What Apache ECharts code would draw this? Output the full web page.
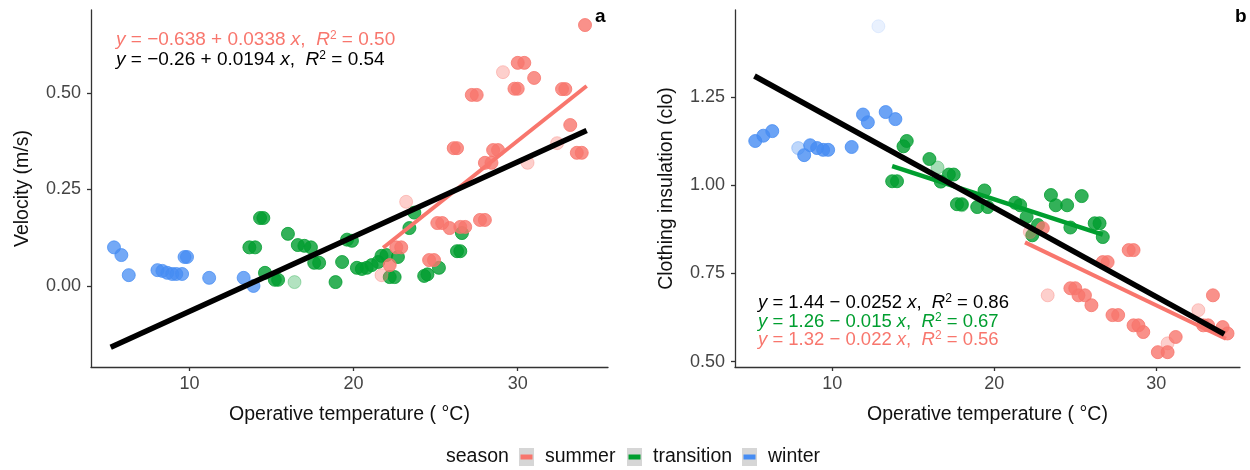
<!DOCTYPE html>
<html lang="en">
<head>
    <meta charset="utf-8" />
    <title>Velocity and clothing insulation vs operative temperature</title>
    <script type="text/javascript" src="https://cdn.jsdelivr.net/npm/echarts@6/dist/echarts.min.js"></script>
    <style type="text/css">
        html, body { margin: 0; padding: 0; background: #fff; }
    </style>
</head>
<body>

    <div id="main" style="width:1250px;height:470px;"></div>

    <script type="text/javascript">

        // colours of the seasons
        var seasons = ['summer', 'transition', 'winter'];
        var seasonColors = ['#F8766D', '#009E2F', '#468CF3'];

        // tick labels
        var xTicks = [10, 20, 30];
        var velTicks = [0, 0.25, 0.5];
        var cloTicks = [0.5, 0.75, 1.0, 1.25];

        // panel a : air velocity (m/s)
        var velWinter = [[5.4, 0.10], [5.85, 0.08], [6.3, 0.028], [8.05, 0.041], [8.35, 0.039], [8.65, 0.034], [8.95, 0.031],
            [9.2, 0.031], [9.55, 0.031], [9.7, 0.075], [9.85, 0.075], [11.2, 0.021], [13.3, 0.021], [13.9, 0.0]];
        var velTransition = [[14.3, 0.176], [14.5, 0.176], [16.0, 0.135], [13.65, 0.10], [14.0, 0.10], [16.6, 0.106], [17.0, 0.104],
            [17.4, 0.10], [17.6, 0.06], [17.9, 0.06], [14.6, 0.034], [15.2, 0.016], [15.4, 0.016], [18.9, 0.01], [19.3, 0.062],
            [19.6, 0.12], [19.9, 0.117], [20.2, 0.047], [20.5, 0.044], [20.8, 0.047], [21.1, 0.054], [21.5, 0.062], [21.7, 0.078],
            [22.0, 0.08], [22.7, 0.075], [22.2, 0.023], [22.5, 0.023], [23.4, 0.15], [23.7, 0.19], [24.3, 0.026], [24.5, 0.03],
            [25.2, 0.047], [26.3, 0.09], [26.5, 0.09], [26.6, 0.137]];
        var velSummer = [[22.6, 0.10], [22.9, 0.10], [22.2, 0.054], [25.1, 0.163], [25.4, 0.163], [25.85, 0.15], [26.5, 0.153],
            [26.8, 0.153], [27.7, 0.171], [28.0, 0.171], [24.6, 0.067], [24.9, 0.067], [34.1, 0.676], [30.0, 0.578], [30.4, 0.578],
            [31.0, 0.539], [29.8, 0.511], [30.0, 0.511], [27.2, 0.495], [27.5, 0.495], [32.7, 0.51], [32.9, 0.51], [33.2, 0.417],
            [33.6, 0.345], [33.9, 0.345], [26.1, 0.357], [26.3, 0.357], [28.5, 0.352], [28.8, 0.352], [28.0, 0.319], [28.4, 0.319]];
        var velTransitionFaint = [[16.4, 0.01]];
        var velSummerFaint = [[23.2, 0.218], [21.7, 0.028], [29.1, 0.554], [32.4, 0.37], [30.6, 0.319]];
        var velFitAll = [[5.2, -0.159], [34.2, 0.403]];
        var velFitSummer = [[21.8, 0.099], [34.2, 0.518]];

        // panel b : clothing insulation (clo)
        var cloWinter = [[5.25, 1.125], [5.75, 1.14], [6.3, 1.153], [8.27, 1.085], [8.64, 1.113], [9.07, 1.105], [9.44, 1.1],
            [9.75, 1.1], [11.2, 1.108], [11.9, 1.2], [12.2, 1.178], [13.3, 1.207], [13.9, 1.187]];
        var cloTransition = [[14.4, 1.11], [14.6, 1.125], [13.7, 1.011], [14.0, 1.011], [16.0, 1.074], [16.7, 1.01], [17.2, 1.03],
            [17.5, 1.03], [17.7, 0.946], [18.0, 0.946], [18.95, 0.938], [19.4, 0.985], [19.6, 0.938], [21.3, 0.95], [21.6, 0.943],
            [22.0, 0.91], [22.7, 0.887], [22.35, 0.858], [23.5, 0.972], [23.8, 0.943], [24.5, 0.943], [25.4, 0.969], [24.7, 0.88],
            [26.2, 0.892], [26.5, 0.892], [26.7, 0.853]];
        var cloSummer = [[23.0, 0.878], [28.3, 0.816], [28.6, 0.816], [26.7, 0.782], [27.0, 0.782], [24.7, 0.708], [25.0, 0.708],
            [25.2, 0.688], [25.6, 0.688], [26.0, 0.66], [27.3, 0.632], [27.65, 0.632], [28.6, 0.603], [28.9, 0.603], [29.2, 0.584],
            [31.2, 0.57], [30.1, 0.527], [30.7, 0.527], [33.5, 0.688], [32.9, 0.603], [33.2, 0.603], [34.1, 0.598], [34.4, 0.58]];
        var cloWinterFaint = [[7.9, 1.105]];
        var cloWinterGhost = [[12.85, 1.45]];
        var cloTransitionFaint = [[16.5, 1.05], [18.0, 0.943]];
        var cloSummerFaint = [[22.2, 0.867], [23.3, 0.688], [30.7, 0.552], [32.6, 0.646]];
        var cloFitAll = [[5.2, 1.309], [34.2, 0.578]];
        var cloFitTransition = [[13.7, 1.054], [26.7, 0.86]];
        var cloFitSummer = [[21.9, 0.838], [34.3, 0.565]];

        var FONT = '"Liberation Sans", Arial, sans-serif';
        var myChart = echarts.init(document.getElementById('main'));

        function xAxisOf(gridIndex, max) {
            return {
                gridIndex: gridIndex, type: 'value', min: 4, max: max,
                name: 'Operative temperature ( \u00B0C)', nameLocation: 'middle', nameGap: 38,
                nameTextStyle: { color: '#111', fontSize: 19.5, fontFamily: FONT },
                axisLine: { onZero: false, lineStyle: { color: '#333', width: 1.3 } },
                axisTick: { show: true, length: 4, customValues: xTicks, lineStyle: { color: '#333', width: 1.3 } },
                axisLabel: { customValues: xTicks, color: '#444', fontSize: 18, fontFamily: FONT, margin: 8 },
                splitLine: { show: false }
            };
        }

        function yAxisOf(gridIndex, min, max, ticks, name) {
            return {
                gridIndex: gridIndex, type: 'value', min: min, max: max,
                name: name, nameLocation: 'middle', nameGap: 58,
                nameTextStyle: { color: '#111', fontSize: 19.5, fontFamily: FONT },
                axisLine: { show: true, onZero: false, lineStyle: { color: '#333', width: 1.3 } },
                axisTick: { show: true, length: 4, customValues: ticks, lineStyle: { color: '#333', width: 1.3 } },
                axisLabel: {
                    customValues: ticks, color: '#444', fontSize: 18, fontFamily: FONT, margin: 10,
                    formatter: function (v) { return v.toFixed(2); }
                },
                splitLine: { show: false }
            };
        }

        function points(name, data, idx, color, opacity) {
            return {
                name: name, type: 'scatter', xAxisIndex: idx, yAxisIndex: idx,
                symbolSize: 13, data: data, z: 2, silent: true,
                itemStyle: { color: color, opacity: opacity, borderColor: color, borderWidth: 1 }
            };
        }

        function fit(name, data, idx, color, width) {
            return {
                name: name, type: 'line', xAxisIndex: idx, yAxisIndex: idx,
                data: data, showSymbol: false, z: 5, silent: true,
                lineStyle: { color: color, width: width, cap: 'butt' }
            };
        }

        // equation label with italic y, x, R and superscript 2
        function equation(text, color, left, top, size) {
            return {
                type: 'text', left: left, top: top, z: 10,
                style: {
                    text: text, fill: color, fontSize: size, fontFamily: FONT, lineHeight: 20,
                    rich: {
                        i: { fontStyle: 'italic', fill: color, fontSize: size, fontFamily: FONT, lineHeight: 20 },
                        n: { fill: color, fontSize: size, fontFamily: FONT, lineHeight: 20 },
                        s: { fill: color, fontSize: 12, fontFamily: FONT, lineHeight: 12, verticalAlign: 'top' }
                    }
                }
            };
        }

        var legendItems = [{ type: 'text', left: 446, top: 447, style: { text: 'season', fill: '#111', fontSize: 19.5, fontFamily: FONT } }];
        var legendX = [519, 627, 742];
        for (var k = 0; k < seasons.length; k++) {
            legendItems.push({ type: 'rect', shape: { x: legendX[k], y: 448, width: 15, height: 18 }, style: { fill: '#d6d6d6' } });
            legendItems.push({ type: 'rect', shape: { x: legendX[k] + 1.5, y: 454.5, width: 12, height: 5 }, style: { fill: seasonColors[k] } });
            legendItems.push({ type: 'text', left: legendX[k] + 26, top: 447, style: { text: seasons[k], fill: '#111', fontSize: 19.5, fontFamily: FONT } });
        }

        var option = {
            animation: false,
            textStyle: { fontFamily: FONT },
            grid: [
                { left: 91, top: 10, width: 517, height: 357 },
                { left: 735, top: 10, width: 505, height: 357 }
            ],
            xAxis: [xAxisOf(0, 35.5), xAxisOf(1, 35.17)],
            yAxis: [
                yAxisOf(0, -0.21, 0.715, velTicks, 'Velocity (m/s)'),
                yAxisOf(1, 0.485, 1.496, cloTicks, 'Clothing insulation (clo)')
            ],
            series: [
                points('winter', velWinter, 0, seasonColors[2], 0.75),
                points('transition', velTransition, 0, seasonColors[1], 0.8),
                points('transition', velTransitionFaint, 0, seasonColors[1], 0.3),
                points('summer', velSummer, 0, seasonColors[0], 0.8),
                points('summer', velSummerFaint, 0, seasonColors[0], 0.35),
                fit('summer', velFitSummer, 0, seasonColors[0], 4),
                fit('all', velFitAll, 0, '#000', 5.5),

                points('winter', cloWinter, 1, seasonColors[2], 0.8),
                points('winter', cloWinterFaint, 1, seasonColors[2], 0.35),
                points('winter', cloWinterGhost, 1, seasonColors[2], 0.12),
                points('transition', cloTransition, 1, seasonColors[1], 0.8),
                points('transition', cloTransitionFaint, 1, seasonColors[1], 0.35),
                points('summer', cloSummer, 1, seasonColors[0], 0.8),
                points('summer', cloSummerFaint, 1, seasonColors[0], 0.35),
                fit('summer', cloFitSummer, 1, seasonColors[0], 4),
                fit('transition', cloFitTransition, 1, seasonColors[1], 4.5),
                fit('all', cloFitAll, 1, '#000', 5.5)
            ],
            graphic: [
                equation('{i|y}{n| = \u22120.638 + 0.0338 }{i|x}{n|,  }{i|R}{s|2}{n| = 0.50}', seasonColors[0], 116, 30, 19),
                equation('{i|y}{n| = \u22120.26 + 0.0194 }{i|x}{n|,  }{i|R}{s|2}{n| = 0.54}', '#000', 116, 50, 19),
                equation('{i|y}{n| = 1.44 \u2212 0.0252 }{i|x}{n|,  }{i|R}{s|2}{n| = 0.86}', '#000', 758, 293, 18.5),
                equation('{i|y}{n| = 1.26 \u2212 0.015 }{i|x}{n|,  }{i|R}{s|2}{n| = 0.67}', seasonColors[1], 758, 312, 18.5),
                equation('{i|y}{n| = 1.32 \u2212 0.022 }{i|x}{n|,  }{i|R}{s|2}{n| = 0.56}', seasonColors[0], 758, 330, 18.5),
                { type: 'text', left: 595, top: 7, style: { text: 'a', fill: '#000', fontSize: 19, fontWeight: 'bold', fontFamily: FONT } },
                { type: 'text', left: 1235, top: 7, style: { text: 'b', fill: '#000', fontSize: 19, fontWeight: 'bold', fontFamily: FONT } }
            ].concat(legendItems)
        };
        myChart.setOption(option, true);

    </script>
</body>
</html>
